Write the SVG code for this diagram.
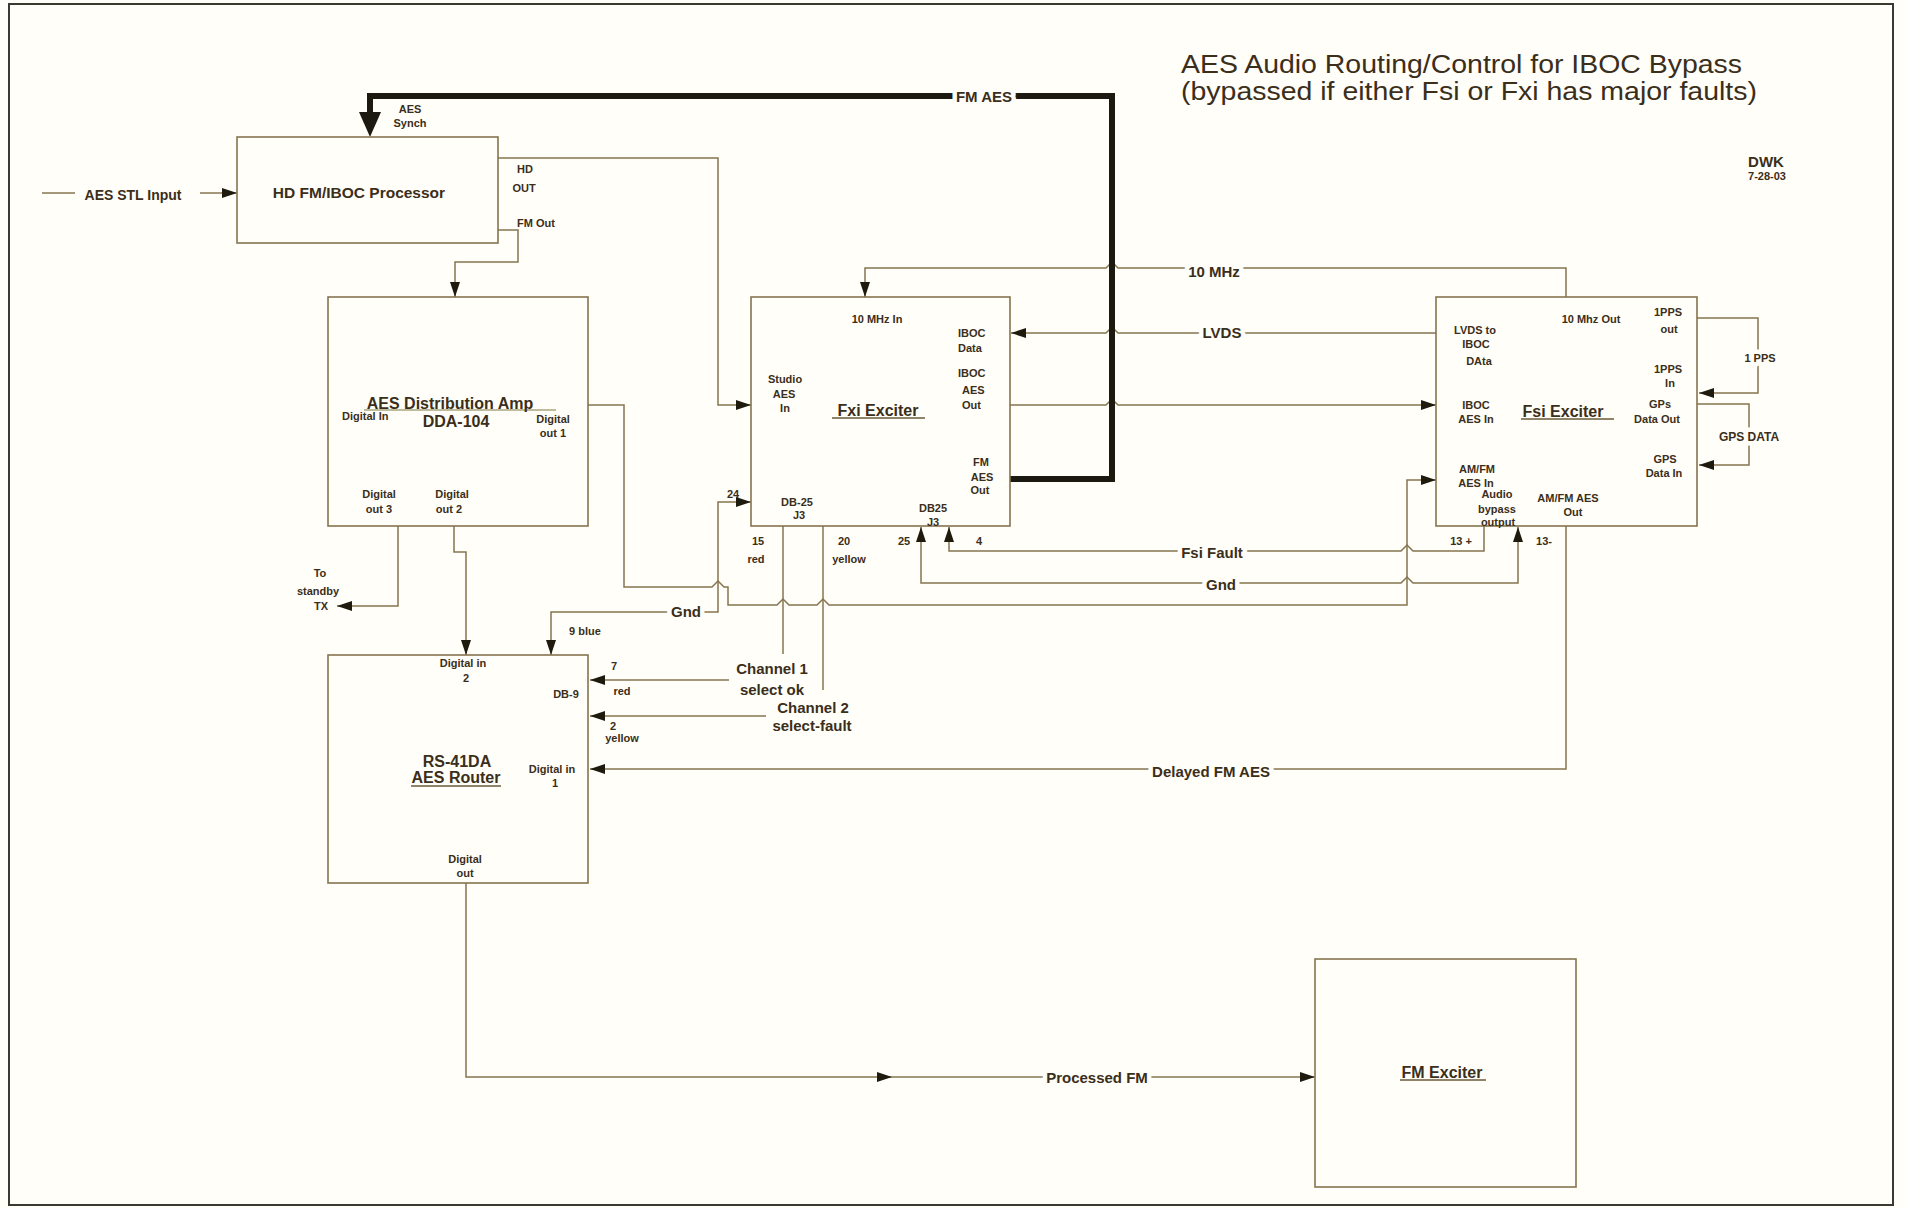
<svg xmlns="http://www.w3.org/2000/svg" width="1905" height="1208" viewBox="0 0 1905 1208">
<style>
text{font-family:"Liberation Sans",Arial,sans-serif;fill:#3b2e1a}
.s{font-size:11px;font-weight:bold}
.m{font-size:15px;font-weight:bold}
.n{font-size:16px;font-weight:bold}
.c{text-anchor:middle}
.halo{stroke:#fffef9;stroke-width:9px;paint-order:stroke;stroke-linejoin:round}
.box{fill:none;stroke:#86744f;stroke-width:1.6}
.ln{fill:none;stroke:#86744f;stroke-width:1.5}
.ul{stroke:#6a5a3a;stroke-width:1.4}
</style>
<defs>
<marker id="a" viewBox="0 0 15 10" refX="15" refY="5" markerWidth="15" markerHeight="10" markerUnits="userSpaceOnUse" orient="auto-start-reverse"><path d="M0,0 L15,5 L0,10 z" fill="#1e1a0e"/></marker>
</defs>
<rect width="1905" height="1208" fill="#fffef9"/>
<rect x="9" y="4" width="1884" height="1201" fill="none" stroke="#3a3a30" stroke-width="2"/>

<g id="connectors">
<path class="ln" d="M42,193 H75"/>
<path class="ln" d="M200,193 H237" marker-end="url(#a)"/>
<path class="ln" d="M498,158 H718 V405 H751" marker-end="url(#a)"/>
<path class="ln" d="M498,230 H518 V262 H455 V297" marker-end="url(#a)"/>
<path class="ln" d="M588,405 H624 V587 H712 L718,581 L724,587 H728 V605 H777 L783,599 L789,605 H817 L823,599 L829,605 H1407 V480 H1436" marker-end="url(#a)"/>
<path class="ln" d="M398,526 V606 H337" marker-end="url(#a)"/>
<path class="ln" d="M454,526 V552 H466 V655" marker-end="url(#a)"/>
<path class="ln" d="M751,502 H718 V612 H551 V655" marker-start="url(#a)" marker-end="url(#a)"/>
<path class="ln" d="M729,680 H590" marker-end="url(#a)"/>
<path class="ln" d="M766,716 H590" marker-end="url(#a)"/>
<path class="ln" d="M783,526 V654"/>
<path class="ln" d="M823,526 V690"/>
<path class="ln" d="M1566,526 V769 H590" marker-end="url(#a)"/>
<path class="ln" d="M466,883 V1077 H892" marker-end="url(#a)"/>
<path class="ln" d="M892,1077 H1315" marker-end="url(#a)"/>
<path class="ln" d="M1566,297 V268 H1118 L1112,262 L1106,268 H865 V297" marker-end="url(#a)"/>
<path class="ln" d="M1436,333 H1118 L1112,327 L1106,333 H1011" marker-end="url(#a)"/>
<path class="ln" d="M1010,405 H1106 L1112,399 L1118,405 H1436" marker-end="url(#a)"/>
<path class="ln" d="M1484,526 V551 H1413 L1407,545 L1401,551 H949 V527" marker-end="url(#a)"/>
<path class="ln" d="M921,527 V583 H1401 L1407,577 L1413,583 H1518 V527" marker-start="url(#a)" marker-end="url(#a)"/>
<path class="ln" d="M1697,318 H1758 V393 H1699" marker-end="url(#a)"/>
<path class="ln" d="M1697,404 H1749 V465 H1699" marker-end="url(#a)"/>
<path d="M1010,479 H1112 V96 H370 V114" fill="none" stroke="#1c1a10" stroke-width="6"/>
<path d="M359,112 L381,112 L370,137 z" fill="#1c1a10"/>
<text class="m c halo" x="984" y="102">FM AES</text>
<text class="m c halo" x="1214" y="277">10 MHz</text>
<text class="m c halo" x="1222" y="338">LVDS</text>
<text class="m c halo" x="1212" y="558">Fsi Fault</text>
<text class="m c halo" x="1221" y="590">Gnd</text>
<text class="m c halo" x="686" y="617">Gnd</text>
<text class="m c halo" x="1211" y="777">Delayed FM AES</text>
<text class="m c halo" x="1097" y="1083">Processed FM</text>
<text class="s c halo" x="1760" y="362">1 PPS</text>
<text class="s c halo" x="1749" y="441" style="font-size:12px">GPS DATA</text>
<text class="s" x="569" y="635">9  blue</text>
<text class="s c" x="614" y="670">7</text>
<text class="s c" x="622" y="695">red</text>
<text class="s c" x="613" y="730">2</text>
<text class="s c" x="622" y="742">yellow</text>
<text class="s c" x="758" y="545">15</text>
<text class="s c" x="756" y="563">red</text>
<text class="s c" x="844" y="545">20</text>
<text class="s c" x="849" y="563">yellow</text>
<text class="s c" x="904" y="545">25</text>
<text class="s c" x="979" y="545">4</text>
<text class="s c" x="733" y="498">24</text>
<text class="s c" x="1461" y="545">13 +</text>
<text class="s c" x="1544" y="545">13-</text>
<text class="m c" x="772" y="674">Channel 1</text>
<text class="m c" x="772" y="695">select ok</text>
<text class="m c" x="813" y="713">Channel 2</text>
<text class="m c" x="812" y="731">select-fault</text>
<text class="s c" x="320" y="577">To</text>
<text class="s c" x="318" y="595">standby</text>
<text class="s c" x="321" y="610">TX</text>
<text class="s c" x="410" y="113">AES</text>
<text class="s c" x="410" y="127">Synch</text>
<text class="s c" x="525" y="173">HD</text>
<text class="s c" x="524" y="192">OUT</text>
<text class="s c" x="536" y="227">FM Out</text>
<text class="m c" x="133" y="200" style="font-size:14px">AES STL Input</text>
</g>

<g id="title">
<text x="1181" y="73" style="font-size:25px" textLength="561" lengthAdjust="spacingAndGlyphs">AES Audio Routing/Control for IBOC Bypass</text>
<text x="1181" y="100" style="font-size:25px" textLength="576" lengthAdjust="spacingAndGlyphs">(bypassed if either Fsi or Fxi has major faults)</text>
<text class="c" x="1766" y="167" style="font-size:15px;font-weight:bold">DWK</text>
<text class="c" x="1767" y="180" style="font-size:11px;font-weight:bold">7-28-03</text>
</g>

<g id="hd-processor">
<rect class="box" x="237" y="137" width="261" height="106"/>
<text class="c" x="359" y="198" style="font-size:15.5px;font-weight:bold">HD FM/IBOC Processor</text>
</g>

<g id="dda104">
<rect class="box" x="328" y="297" width="260" height="229"/>
<line x1="364" y1="410" x2="556" y2="410" stroke="#a8a67c" stroke-width="1.5"/>
<text class="n c" x="450" y="409">AES Distribution Amp</text>
<text class="n c" x="456" y="427">DDA-104</text>
<text class="s" x="342" y="420">Digital In</text>
<text class="s c" x="553" y="423">Digital</text>
<text class="s c" x="553" y="437">out 1</text>
<text class="s c" x="379" y="498">Digital</text>
<text class="s c" x="379" y="513">out 3</text>
<text class="s c" x="452" y="498">Digital</text>
<text class="s c" x="449" y="513">out 2</text>
</g>

<g id="fxi-exciter">
<rect class="box" x="751" y="297" width="259" height="229"/>
<text class="s c" x="877" y="323">10 MHz In</text>
<text class="s" x="958" y="337">IBOC</text>
<text class="s" x="958" y="352">Data</text>
<text class="s" x="958" y="377">IBOC</text>
<text class="s" x="962" y="394">AES</text>
<text class="s" x="962" y="409">Out</text>
<text class="s c" x="785" y="383">Studio</text>
<text class="s c" x="784" y="398">AES</text>
<text class="s c" x="785" y="412">In</text>
<text class="n c" x="878" y="416">Fxi Exciter</text>
<line class="ul" x1="832" y1="418" x2="925" y2="418"/>
<text class="s c" x="981" y="466">FM</text>
<text class="s c" x="982" y="481">AES</text>
<text class="s c" x="980" y="494">Out</text>
<text class="s c" x="797" y="506">DB-25</text>
<text class="s c" x="799" y="519">J3</text>
<text class="s c" x="933" y="512">DB25</text>
<text class="s c" x="933" y="526">J3</text>
</g>

<g id="fsi-exciter">
<rect class="box" x="1436" y="297" width="261" height="229"/>
<text class="s c" x="1591" y="323">10 Mhz Out</text>
<text class="s c" x="1668" y="316">1PPS</text>
<text class="s c" x="1669" y="333">out</text>
<text class="s c" x="1668" y="373">1PPS</text>
<text class="s c" x="1670" y="387">In</text>
<text class="s c" x="1660" y="408">GPs</text>
<text class="s c" x="1657" y="423">Data Out</text>
<text class="s c" x="1665" y="463">GPS</text>
<text class="s c" x="1664" y="477">Data In</text>
<text class="s c" x="1475" y="334">LVDS to</text>
<text class="s c" x="1476" y="348">IBOC</text>
<text class="s c" x="1479" y="365">DAta</text>
<text class="s c" x="1476" y="409">IBOC</text>
<text class="s c" x="1476" y="423">AES In</text>
<text class="s c" x="1477" y="473">AM/FM</text>
<text class="s c" x="1476" y="487">AES In</text>
<text class="s c" x="1497" y="498">Audio</text>
<text class="s c" x="1497" y="513">bypass</text>
<text class="s c" x="1498" y="526">output</text>
<text class="s c" x="1568" y="502">AM/FM AES</text>
<text class="s c" x="1573" y="516">Out</text>
<text class="n c" x="1563" y="417">Fsi Exciter</text>
<line class="ul" x1="1521" y1="419" x2="1614" y2="419"/>
</g>

<g id="rs41da">
<rect class="box" x="328" y="655" width="260" height="228"/>
<text class="s c" x="463" y="667">Digital in</text>
<text class="s c" x="466" y="682">2</text>
<text class="s c" x="566" y="698">DB-9</text>
<text class="s c" x="552" y="773">Digital in</text>
<text class="s c" x="555" y="787">1</text>
<text class="n c" x="457" y="767">RS-41DA</text>
<text class="n c" x="456" y="783">AES Router</text>
<line class="ul" x1="411" y1="786" x2="501" y2="786"/>
<text class="s c" x="465" y="863">Digital</text>
<text class="s c" x="465" y="877">out</text>
</g>

<g id="fm-exciter">
<rect class="box" x="1315" y="959" width="261" height="228"/>
<text class="n c" x="1442" y="1078">FM Exciter</text>
<line class="ul" x1="1400" y1="1080" x2="1486" y2="1080"/>
</g>
</svg>
